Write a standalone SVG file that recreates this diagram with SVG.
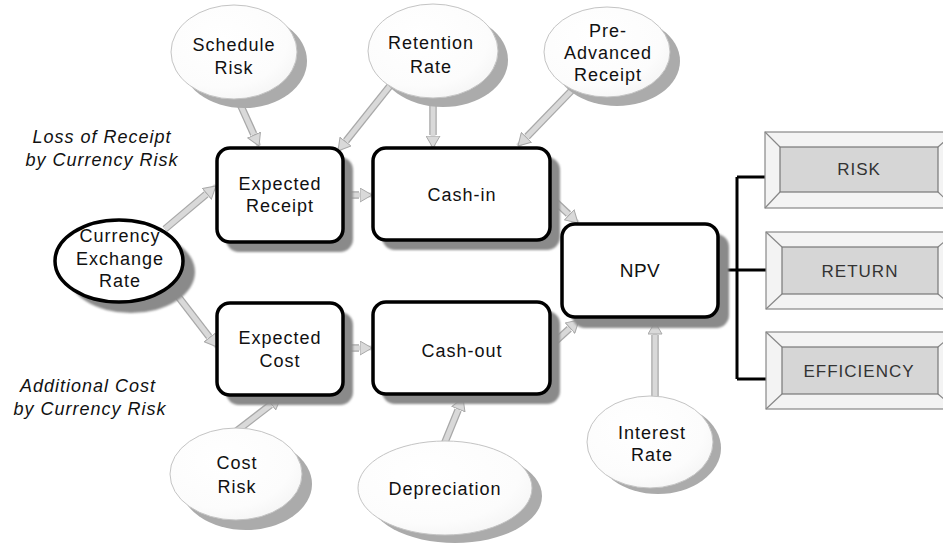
<svg xmlns="http://www.w3.org/2000/svg" width="943" height="544" viewBox="0 0 943 544">
<defs>
<radialGradient id="eg" cx="0.4" cy="0.35" r="0.75">
<stop offset="0" stop-color="#ffffff"/>
<stop offset="0.7" stop-color="#fcfcfc"/>
<stop offset="1" stop-color="#f3f3f3"/>
</radialGradient>
<filter id="bl" x="-10%" y="-10%" width="120%" height="120%"><feGaussianBlur stdDeviation="1"/></filter>
<marker id="ah" viewBox="0 0 13 15" refX="12.5" refY="7.5" markerWidth="13" markerHeight="15" markerUnits="userSpaceOnUse" orient="auto">
<path d="M0.5,0.5 L12.5,7.5 L0.5,14.5 z" fill="#d9d9d9" stroke="#a8a8a8" stroke-width="1"/>
</marker>
</defs>
<style>
text{font-family:"Liberation Sans",Arial,sans-serif;fill:#111;text-anchor:middle}
.t{font-size:18px;letter-spacing:1px}
.it{font-size:18px;letter-spacing:1px;font-style:italic}
.np{font-size:19px;letter-spacing:0.5px}
.bt{font-size:17px;letter-spacing:1px;fill:#333}
.ell{fill:url(#eg);stroke:#c4c4c4;stroke-width:1}
.esh{fill:#ababab}
.box{fill:#fff;stroke:#000;stroke-width:3.5}
.bsh{fill:#8a8a8a;filter:url(#bl)}
.oe{stroke:#a8a8a8;stroke-width:7.5;fill:none}
.ie{stroke:#d9d9d9;stroke-width:5;fill:none;marker-end:url(#ah)}
.bus{stroke:#000;stroke-width:3;fill:none}
.bo{fill:#f3f3f3;stroke:#888;stroke-width:1.2}
.bi{fill:#d6d6d6;stroke:#777;stroke-width:1.2}
.bl{stroke:#888;stroke-width:1.2}
</style>

<g id="connectors">
<line class="oe" x1="236" y1="95" x2="253.7" y2="134.1"/><line class="ie" x1="236" y1="95" x2="259" y2="146"/>
<line class="oe" x1="393" y1="82" x2="346.1" y2="140.8"/><line class="ie" x1="393" y1="82" x2="338" y2="151"/>
<line class="oe" x1="433" y1="94" x2="433" y2="135"/><line class="ie" x1="433" y1="94" x2="433" y2="148"/>
<line class="oe" x1="576" y1="86" x2="527" y2="136.6"/><line class="ie" x1="576" y1="86" x2="518" y2="146"/>
<line class="oe" x1="165" y1="229" x2="206.1" y2="194.4"/><line class="ie" x1="165" y1="229" x2="216" y2="186"/>
<line class="oe" x1="167" y1="282" x2="209.1" y2="336.7"/><line class="ie" x1="167" y1="282" x2="217" y2="347"/>
<line class="oe" x1="340" y1="195" x2="359" y2="195"/><line class="ie" x1="340" y1="195" x2="372" y2="195"/>
<line class="oe" x1="340" y1="348" x2="359" y2="348"/><line class="ie" x1="340" y1="348" x2="372" y2="348"/>
<line class="oe" x1="546" y1="193" x2="568.5" y2="214.1"/><line class="ie" x1="546" y1="193" x2="578" y2="223"/>
<line class="oe" x1="547" y1="349" x2="569.3" y2="328.7"/><line class="ie" x1="547" y1="349" x2="579" y2="320"/>
<line class="oe" x1="655" y1="402" x2="655" y2="335"/><line class="ie" x1="655" y1="402" x2="655" y2="322"/>
<line class="oe" x1="234" y1="433" x2="270.6" y2="404.8"/><line class="ie" x1="234" y1="433" x2="281" y2="397"/>
<line class="oe" x1="443" y1="447" x2="458.1" y2="410"/><line class="ie" x1="443" y1="447" x2="463" y2="398"/>
<path class="bus" d="M718,270 H737 M737,177 V379 M737,177 H766 M737,270 H766 M737,379 H766"/>
</g>

<g id="schedule-risk">
<ellipse class="esh" cx="244" cy="61" rx="63" ry="47"/>
<ellipse class="ell" cx="234" cy="52" rx="63" ry="47"/>
<text class="t" x="234" y="51">Schedule</text>
<text class="t" x="234" y="74">Risk</text>
</g>
<g id="retention-rate">
<ellipse class="esh" cx="443" cy="60" rx="65" ry="47"/>
<ellipse class="ell" cx="433" cy="51" rx="65" ry="47"/>
<text class="t" x="431" y="49">Retention</text>
<text class="t" x="431" y="73">Rate</text>
</g>
<g id="pre-advanced-receipt">
<ellipse class="esh" cx="617" cy="61" rx="63" ry="45"/>
<ellipse class="ell" cx="607" cy="52" rx="63" ry="45"/>
<text class="t" x="608" y="37">Pre-</text>
<text class="t" x="608" y="59">Advanced</text>
<text class="t" x="608" y="81">Receipt</text>
</g>
<g id="currency-exchange-rate">
<ellipse cx="131" cy="272" rx="64" ry="41" filter="url(#bl)" fill="#8a8a8a"/>
<ellipse cx="119" cy="261" rx="64" ry="41" fill="#fff" stroke="#000" stroke-width="3.5"/>
<text class="t" x="120" y="242">Currency</text>
<text class="t" x="120" y="265">Exchange</text>
<text class="t" x="120" y="287">Rate</text>
</g>
<g id="label-loss">
<text class="it" x="102" y="143">Loss of Receipt</text>
<text class="it" x="102" y="166">by Currency Risk</text>
</g>
<g id="label-additional">
<text class="it" x="88" y="392">Additional Cost</text>
<text class="it" x="90" y="415">by Currency Risk</text>
</g>
<g id="expected-receipt">
<rect class="bsh" x="226" y="157" width="127" height="95" rx="13"/>
<rect class="box" x="217" y="148" width="126" height="94" rx="13"/>
<text class="t" x="280" y="190">Expected</text>
<text class="t" x="280" y="212">Receipt</text>
</g>
<g id="cash-in">
<rect class="bsh" x="382" y="157" width="178" height="93" rx="13"/>
<rect class="box" x="373" y="148" width="177" height="92" rx="13"/>
<text class="t" x="462" y="201">Cash-in</text>
</g>
<g id="expected-cost">
<rect class="bsh" x="226" y="312" width="127" height="93" rx="13"/>
<rect class="box" x="217" y="303" width="126" height="92" rx="13"/>
<text class="t" x="280" y="344">Expected</text>
<text class="t" x="280" y="367">Cost</text>
</g>
<g id="cash-out">
<rect class="bsh" x="382" y="311" width="178" height="93" rx="13"/>
<rect class="box" x="373" y="302" width="177" height="92" rx="13"/>
<text class="t" x="462" y="357">Cash-out</text>
</g>
<g id="npv">
<rect class="bsh" x="572" y="234" width="157" height="94" rx="13"/>
<rect class="box" x="562" y="224" width="156" height="93" rx="13"/>
<text class="np" x="640" y="277">NPV</text>
</g>
<g id="cost-risk">
<ellipse class="esh" cx="246" cy="484" rx="66" ry="46"/>
<ellipse class="ell" cx="236" cy="474" rx="66" ry="46"/>
<text class="t" x="237" y="469">Cost</text>
<text class="t" x="237" y="493">Risk</text>
</g>
<g id="depreciation">
<ellipse class="esh" cx="455" cy="496" rx="87" ry="47"/>
<ellipse class="ell" cx="445" cy="488" rx="87" ry="47"/>
<text class="t" x="445" y="495">Depreciation</text>
</g>
<g id="interest-rate">
<ellipse class="esh" cx="658" cy="448" rx="63" ry="46"/>
<ellipse class="ell" cx="650" cy="442" rx="63" ry="46"/>
<text class="t" x="652" y="439">Interest</text>
<text class="t" x="652" y="461">Rate</text>
</g>
<g id="risk">
<rect class="bo" x="765" y="132" width="190" height="76"/>
<path class="bl" d="M765,132 L780,147 M955,132 L938,147 M765,208 L780,192 M955,208 L938,192"/>
<rect class="bi" x="780" y="147" width="158" height="45"/>
<text class="bt" x="859" y="175">RISK</text>
</g>
<g id="return">
<rect class="bo" x="766" y="232" width="190" height="77"/>
<path class="bl" d="M766,232 L782,247 M956,232 L938,247 M766,309 L782,294 M956,309 L938,294"/>
<rect class="bi" x="782" y="247" width="156" height="47"/>
<text class="bt" x="860" y="277">RETURN</text>
</g>
<g id="efficiency">
<rect class="bo" x="766" y="332" width="190" height="77"/>
<path class="bl" d="M766,332 L782,347 M956,332 L938,347 M766,409 L782,394 M956,409 L938,394"/>
<rect class="bi" x="782" y="347" width="156" height="47"/>
<text class="bt" x="859" y="377">EFFICIENCY</text>
</g>
</svg>
